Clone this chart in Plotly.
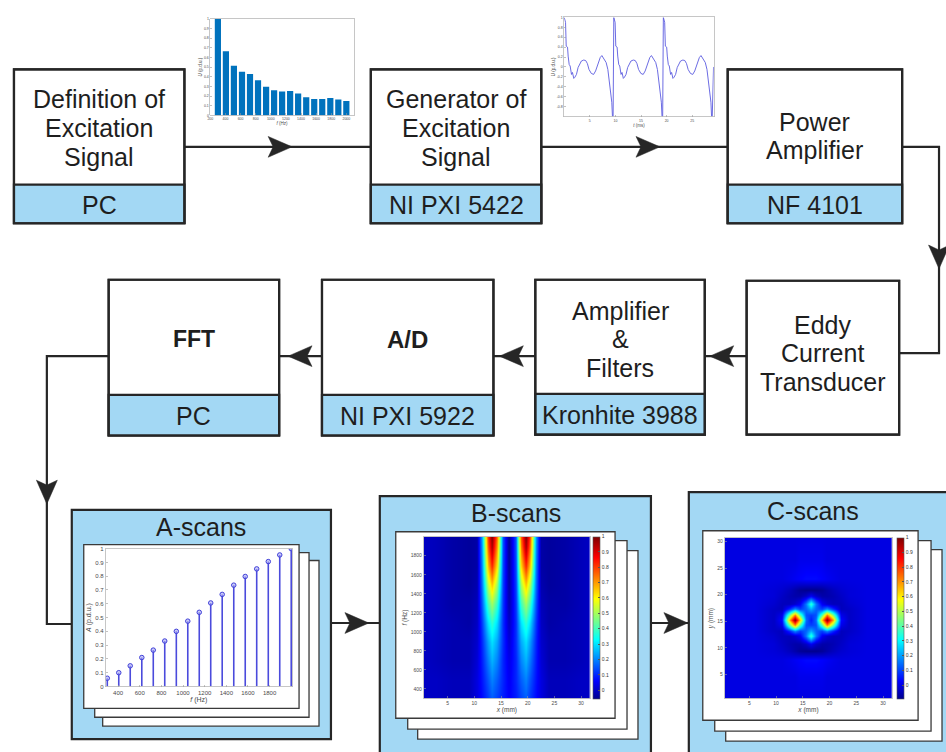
import plotly.graph_objects as go

W, H = 946, 752
FONT = "Liberation Sans, Arial, sans-serif"

# ---------------- data ----------------
# excitation frequencies (Hz) shared by the spectrum and the A-scan
freq_hz = [300, 406, 512, 619, 725, 831, 938, 1044, 1150, 1256,
           1362, 1469, 1575, 1681, 1788, 1894, 2000]
# designed amplitude spectrum of the multi-tone excitation (p.d.u.)
excitation_spectrum = [1.0, 0.664, 0.514, 0.452, 0.428, 0.363, 0.298, 0.26, 0.247,
                       0.253, 0.226, 0.188, 0.171, 0.171, 0.18, 0.164, 0.15]
# measured A-scan amplitude per frequency (p.d.u.)
ascan_amplitude = [0.06, 0.10, 0.15, 0.21, 0.264, 0.33, 0.40, 0.474, 0.538,
                   0.606, 0.668, 0.735, 0.798, 0.853, 0.906, 0.954, 1.0]

# one period of the generated waveform
period_ms = 9.68
wave_t_ms = [0.0, 0.26, 0.39, 0.65, 0.77, 0.97, 1.16, 1.42, 1.61, 1.87, 2.06, 2.39,
             2.71, 3.03, 3.35, 3.81, 4.19, 4.52, 4.84, 5.29, 5.74, 6.13, 6.58, 7.03,
             7.35, 7.61, 7.87, 8.19, 8.52, 8.84, 9.03, 9.29, 9.42, 9.55]
wave_u = [1.0, 0.9, 0.42, 0.4, 0.22, 0.05, 0.02, -0.15, -0.11, -0.23, -0.21, -0.15,
          -0.01, 0.05, 0.12, 0.14, 0.13, 0.07, -0.05, -0.13, -0.15, -0.08, 0.05, 0.19,
          0.23, 0.19, 0.15, 0.09, -0.05, -0.38, -0.45, -0.71, -1.0, -1.0]
n_periods = 3
tail_t_ms = [29.16]
tail_u = [0.0]

# B-scan: amplitude over scan position x (mm) and frequency f (Hz)
bscan_x_mm = [0.45, 2.95, 5.95, 8.95, 10.45, 11.45, 12.45, 13.3, 14.25, 15.25, 16.45,
              17.65, 18.65, 19.6, 20.45, 21.45, 22.45, 23.95, 26.95, 29.95, 31.75]
bscan_f_hz = [300, 500, 700, 900, 1100, 1300, 1500, 1700, 1900, 2000]
bscan_amp = [
    [0, 0, -0.01, -0.01, 0.03, 0.07, 0.12, 0.16, 0.13, 0.09, 0.06, 0.09, 0.13, 0.16, 0.12, 0.07, 0.03, -0.01, -0.01, 0, 0],
    [0, 0, -0.01, -0.01, 0.03, 0.08, 0.15, 0.20, 0.16, 0.10, 0.05, 0.10, 0.16, 0.20, 0.15, 0.08, 0.03, -0.01, -0.01, 0, 0],
    [0, -0.01, -0.02, -0.02, 0.02, 0.09, 0.19, 0.25, 0.20, 0.10, 0.04, 0.10, 0.20, 0.25, 0.19, 0.09, 0.02, -0.02, -0.02, -0.01, 0],
    [0, -0.01, -0.02, -0.02, 0.01, 0.10, 0.23, 0.30, 0.24, 0.11, 0.02, 0.11, 0.24, 0.30, 0.23, 0.10, 0.01, -0.02, -0.02, -0.01, 0],
    [0, -0.01, -0.02, -0.03, 0.0, 0.12, 0.30, 0.38, 0.30, 0.11, 0.0, 0.11, 0.30, 0.38, 0.30, 0.12, 0.0, -0.03, -0.02, -0.01, 0],
    [0, -0.01, -0.03, -0.03, -0.01, 0.15, 0.40, 0.50, 0.39, 0.12, -0.02, 0.12, 0.39, 0.50, 0.40, 0.15, -0.01, -0.03, -0.03, -0.01, 0],
    [0, -0.01, -0.03, -0.04, -0.02, 0.18, 0.52, 0.66, 0.50, 0.13, -0.03, 0.13, 0.50, 0.66, 0.52, 0.18, -0.02, -0.04, -0.03, -0.01, 0],
    [0, -0.01, -0.03, -0.04, -0.03, 0.20, 0.66, 0.83, 0.63, 0.14, -0.04, 0.14, 0.63, 0.83, 0.66, 0.20, -0.03, -0.04, -0.03, -0.01, 0],
    [0, -0.01, -0.03, -0.04, -0.03, 0.22, 0.76, 0.96, 0.72, 0.15, -0.05, 0.15, 0.72, 0.96, 0.76, 0.22, -0.03, -0.04, -0.03, -0.01, 0],
    [0, -0.01, -0.03, -0.04, -0.03, 0.23, 0.80, 1.00, 0.76, 0.15, -0.05, 0.15, 0.76, 1.00, 0.80, 0.23, -0.03, -0.04, -0.03, -0.01, 0],
]

# C-scan: amplitude over the scanned surface (x, y in mm)
cscan_x_mm = [0.5, 6, 9.5, 11, 12.5, 13.5, 14.5, 15.5, 16.5, 17.5, 18.5, 19.5, 20.5, 22, 23.5, 27, 32.5]
cscan_y_mm = [0.5, 4.5, 7.7, 9.5, 10.8, 12.3, 13.3, 14.3, 15.3, 16.3, 17.3, 18.3, 19.8, 21.0, 23.0, 26.5, 30.8]
cscan_amp = [
    [0, 0, 0, 0, 0, 0, 0, 0, 0, 0, 0, 0, 0, 0, 0, 0, 0],
    [0, 0, 0, 0, 0, 0, 0.01, 0.01, 0.01, 0.01, 0.01, 0, 0, 0, 0, 0, 0],
    [0, 0, 0, 0, 0.01, 0.02, 0.03, 0.04, 0.04, 0.04, 0.03, 0.02, 0.01, 0, 0, 0, 0],
    [0, 0, -0.01, -0.02, -0.04, -0.06, -0.08, -0.09, -0.09, -0.09, -0.08, -0.06, -0.04, -0.02, -0.01, 0, 0],
    [0, 0, -0.01, -0.03, -0.05, -0.06, -0.06, -0.03, 0.02, -0.03, -0.06, -0.06, -0.05, -0.03, -0.01, 0, 0],
    [0, 0, -0.02, -0.04, -0.04, -0.02, 0.02, 0.16, 0.36, 0.16, 0.02, -0.02, -0.04, -0.04, -0.02, 0, 0],
    [0, 0, -0.03, -0.04, 0.08, 0.18, 0.1, 0.14, 0.22, 0.14, 0.1, 0.18, 0.08, -0.04, -0.03, 0, 0],
    [0, 0, -0.03, 0.01, 0.45, 0.72, 0.4, 0.12, 0.1, 0.12, 0.4, 0.72, 0.45, 0.01, -0.03, 0, 0],
    [0, 0, -0.03, 0.04, 0.7, 1.0, 0.65, 0.15, 0.06, 0.15, 0.65, 1.0, 0.7, 0.04, -0.03, 0, 0],
    [0, 0, -0.03, 0.01, 0.45, 0.72, 0.4, 0.12, 0.1, 0.12, 0.4, 0.72, 0.45, 0.01, -0.03, 0, 0],
    [0, 0, -0.03, -0.04, 0.08, 0.18, 0.1, 0.14, 0.22, 0.14, 0.1, 0.18, 0.08, -0.04, -0.03, 0, 0],
    [0, 0, -0.02, -0.04, -0.04, -0.02, 0.02, 0.16, 0.36, 0.16, 0.02, -0.02, -0.04, -0.04, -0.02, 0, 0],
    [0, 0, -0.01, -0.03, -0.05, -0.06, -0.06, -0.03, 0.02, -0.03, -0.06, -0.06, -0.05, -0.03, -0.01, 0, 0],
    [0, 0, -0.01, -0.02, -0.04, -0.06, -0.08, -0.09, -0.09, -0.09, -0.08, -0.06, -0.04, -0.02, -0.01, 0, 0],
    [0, 0, 0, 0, 0.01, 0.02, 0.03, 0.04, 0.04, 0.04, 0.03, 0.02, 0.01, 0, 0, 0, 0],
    [0, 0, 0, 0, 0, 0, 0.01, 0.01, 0.01, 0.01, 0.01, 0, 0, 0, 0, 0, 0],
    [0, 0, 0, 0, 0, 0, 0, 0, 0, 0, 0, 0, 0, 0, 0, 0, 0],
]

# tick labels
spectrum_xticks = [200, 400, 600, 800, 1000, 1200, 1400, 1600, 1800, 2000]
ascan_xticks = [400, 600, 800, 1000, 1200, 1400, 1600, 1800]
unit_ticks = [0, 0.1, 0.2, 0.3, 0.4, 0.5, 0.6, 0.7, 0.8, 0.9, 1]
wave_yticks = [-0.8, -0.6, -0.4, -0.2, 0, 0.2, 0.4, 0.6, 0.8, 1]
wave_xticks = [5, 10, 15, 20, 25]
mm_ticks = [5, 10, 15, 20, 25, 30]
freq_ticks = [400, 600, 800, 1000, 1200, 1400, 1600, 1800]

# MATLAB-style jet colormap
JET = [[0.0, "rgb(0,0,143)"], [0.111, "rgb(0,0,255)"], [0.365, "rgb(0,255,255)"],
       [0.619, "rgb(255,255,0)"], [0.873, "rgb(255,0,0)"], [1.0, "rgb(128,0,0)"]]

# ---------------- helpers (pixel -> paper) ----------------
def px(x):
    return x / W


def py(y):
    return 1 - y / H


INK = "#262626"
BLUE = "#a3d8f4"
shapes = []
annotations = []


def rect(x0, y0, x1, y1, fill, color=INK, width=2.2):
    shapes.append(dict(type="rect", xref="paper", yref="paper",
                       x0=px(x0), x1=px(x1), y0=py(y1), y1=py(y0),
                       fillcolor=fill, line=dict(color=color, width=width), layer="below"))


def polyline(pts, color=INK, width=2.2):
    path = "M " + " L ".join(f"{px(x):.5f},{py(y):.5f}" for x, y in pts)
    shapes.append(dict(type="path", path=path, xref="paper", yref="paper",
                       line=dict(color=color, width=width), layer="below"))


def arrowhead(tx, ty, d, length=24, half=10.5, notch=5):
    dx, dy = d
    pxp, pyp = -dy, dx
    pts = [(tx, ty),
           (tx - length * dx + half * pxp, ty - length * dy + half * pyp),
           (tx - (length - notch) * dx, ty - (length - notch) * dy),
           (tx - length * dx - half * pxp, ty - length * dy - half * pyp)]
    path = "M " + " L ".join(f"{px(x):.5f},{py(y):.5f}" for x, y in pts) + " Z"
    shapes.append(dict(type="path", path=path, xref="paper", yref="paper",
                       fillcolor=INK, line=dict(color=INK, width=0.5), layer="below"))


def label(x, y, text, size=25, bold=False):
    annotations.append(dict(x=px(x), y=py(y), xref="paper", yref="paper",
                            text=f"<b>{text}</b>" if bold else text, showarrow=False,
                            xanchor="center", yanchor="middle",
                            font=dict(family=FONT, size=size, color="#1e1e1e")))


def block(x0, y0, x1, y1, lines, line_ys, sub=None, sub_top=None, bold=False, size=25):
    if sub is not None:
        rect(x0, sub_top, x1, y1, BLUE)
    rect(x0, y0, x1, y1, "rgba(0,0,0,0)")
    cx = (x0 + x1) / 2
    for t, yy in zip(lines, line_ys):
        label(cx, yy, t, size=size, bold=bold)
    if sub is not None:
        label(cx, (sub_top + y1) / 2 + 1, sub)


# ---------------- connectors ----------------
polyline([(182, 145), (369, 145)])
arrowhead(290, 145, (1, 0))
polyline([(540, 145), (727, 145)])
arrowhead(659, 145, (1, 0))
polyline([(902, 145), (939, 145), (939, 353), (899, 353)])
arrowhead(939, 268, (0, 1))
polyline([(746, 356), (704, 356)])
arrowhead(709, 356, (-1, 0))
polyline([(534, 356), (492, 356)])
arrowhead(498, 356, (-1, 0))
polyline([(320, 356), (277, 356)])
arrowhead(286, 356, (-1, 0))
polyline([(106, 356), (44, 356), (44, 626), (69, 626)])
arrowhead(44, 505, (0, 1))
polyline([(329, 625), (378, 625)])
arrowhead(367, 625, (1, 0))
polyline([(650, 625), (688, 625)])
arrowhead(687, 625, (1, 0))

# ---------------- top row ----------------
rect(11, 67, 182, 222, "white")
block(11, 67, 182, 222, ["Definition of", "Excitation", "Signal"], [97, 126, 155],
      sub="PC", sub_top=183)
rect(369, 67, 540, 222, "white")
block(369, 67, 540, 222, ["Generator of", "Excitation", "Signal"], [97, 126, 155],
      sub="NI PXI 5422", sub_top=183)
rect(727, 67, 902, 222, "white")
block(727, 67, 902, 222, ["Power", "Amplifier"], [120, 148], sub="NF 4101", sub_top=183)

# ---------------- middle row ----------------
rect(106, 279, 277, 436, "white")
block(106, 279, 277, 436, ["FFT"], [339], sub="PC", sub_top=395, bold=True, size=23)
rect(320, 279, 492, 436, "white")
block(320, 279, 492, 436, ["A/D"], [339], sub="NI PXI 5922", sub_top=395, bold=True, size=24)
rect(534, 279, 704, 435, "white")
block(534, 279, 704, 435, ["Amplifier", "&", "Filters"], [310, 339, 368],
      sub="Kronhite 3988", sub_top=394)
rect(746, 280, 899, 435, "white")
block(746, 280, 899, 435, ["Eddy", "Current", "Transducer"], [325, 353, 382])

# ---------------- result panels ----------------
rect(69, 511, 329, 742, BLUE)
rect(378, 497, 650, 770, BLUE)
rect(688, 493, 960, 770, BLUE)
label(199, 528, "A-scans")
label(515, 514, "B-scans")
label(813, 512, "C-scans")

CARD = "#3a3a3a"
for box in [(100, 562, 317, 729), (92, 554, 307, 720), (81, 546, 297, 711),
            (416, 552, 637, 742), (406, 542, 626, 732), (394, 533, 614, 721),
            (725, 551, 942, 744), (714, 542, 931, 734), (702, 532, 918, 723)]:
    rect(*box, "white", color=CARD, width=1.3)


# ---------------- axes ----------------
def fmt(v):
    return f"{v:g}"


def mat_axis(domain, rng, anchor, tickvals, tsize, title, title_size, standoff):
    return dict(domain=domain, range=rng, anchor=anchor, tickmode="array",
                tickvals=tickvals, ticktext=[fmt(v) for v in tickvals],
                tickfont=dict(family=FONT, size=tsize, color="#4a4a4a"),
                ticks="inside", ticklen=2, tickwidth=0.6, tickcolor="#9a9a9a",
                showline=True, mirror=True, linecolor="#b8b8b8", linewidth=0.8,
                showgrid=False, zeroline=False, fixedrange=True,
                title=dict(text=title, font=dict(family=FONT, size=title_size, color="#4a4a4a"),
                           standoff=standoff))


fig = go.Figure()

# designed excitation spectrum
fig.add_trace(go.Bar(x=freq_hz, y=excitation_spectrum, width=82, marker_color="#0072BD",
                     marker_line_width=0, xaxis="x", yaxis="y"))

# generated time waveform
t_all, u_all = [], []
for k in range(n_periods):
    t_all += [t + k * period_ms for t in wave_t_ms]
    u_all += wave_u
t_all += tail_t_ms
u_all += tail_u
fig.add_trace(go.Scatter(x=t_all, y=u_all, mode="lines",
                         line=dict(color="#5b5be0", width=0.9), xaxis="x2", yaxis="y2"))

# A-scan stems
stem_x, stem_y = [], []
for f, a in zip(freq_hz, ascan_amplitude):
    stem_x += [f, f, None]
    stem_y += [0, a, None]
fig.add_trace(go.Scatter(x=stem_x, y=stem_y, mode="lines",
                         line=dict(color="#4b4bdc", width=1.6), xaxis="x3", yaxis="y3"))
fig.add_trace(go.Scatter(x=freq_hz, y=ascan_amplitude, mode="markers",
                         marker=dict(symbol="circle", size=4.5, color="rgba(170,170,245,0.6)",
                                     line=dict(color="#4040d8", width=1)),
                         xaxis="x3", yaxis="y3"))


def cbar(left, top, bottom):
    return dict(x=px(left), xanchor="left", xpad=0, y=py((top + bottom) / 2), yanchor="middle",
                len=(bottom - top) / H, lenmode="fraction", ypad=0, thickness=7,
                thicknessmode="pixels", outlinewidth=0.6, outlinecolor="#555",
                tickmode="array", tickvals=unit_ticks, ticktext=[fmt(v) for v in unit_ticks],
                ticks="inside", ticklen=2, tickcolor="#555",
                tickfont=dict(family=FONT, size=5, color="#333"))


fig.add_trace(go.Heatmap(x=bscan_x_mm, y=bscan_f_hz, z=bscan_amp, colorscale=JET,
                         zmin=-0.055, zmax=1.0, zsmooth="best", xaxis="x4", yaxis="y4",
                         colorbar=cbar(592, 538, 701)))
fig.add_trace(go.Heatmap(x=cscan_x_mm, y=cscan_y_mm, z=cscan_amp, colorscale=JET,
                         zmin=-0.09, zmax=1.0, zsmooth="best", xaxis="x5", yaxis="y5",
                         colorbar=cbar(897, 539, 701)))

fig.update_layout(
    width=W, height=H, margin=dict(l=0, r=0, t=0, b=0),
    paper_bgcolor="white", plot_bgcolor="white", showlegend=False,
    shapes=shapes, annotations=annotations,
    xaxis=mat_axis([px(208), px(352)], [200, 2100], "y", spectrum_xticks, 3.5, "<i>f</i> (Hz)", 4.5, 1),
    yaxis=mat_axis([py(113.3), py(16)], [0, 1], "x", unit_ticks, 3.5, "<i>U</i> (p.d.u.)", 4.5, 1),
    xaxis2=mat_axis([px(563), px(713)], [0, 29.2], "y2", wave_xticks, 3.5, "<i>t</i> (ms)", 4.5, 1),
    yaxis2=mat_axis([py(114.5), py(14.5)], [-1, 1], "x2", wave_yticks, 3.5, "<i>U</i> (p.d.u.)", 4.5, 1),
    xaxis3=mat_axis([px(103), px(290)], [285, 2008], "y3", ascan_xticks, 6, "<i>f</i> (Hz)", 7, 1),
    yaxis3=mat_axis([py(689), py(550)], [0, 1], "x3", unit_ticks, 6, "<i>A</i> (p.d.u.)", 7, 2),
    xaxis4=mat_axis([px(422), px(589)], [0.5, 31.7], "y4", mm_ticks, 5, "<i>x</i> (mm)", 6.5, 1),
    yaxis4=mat_axis([py(701), py(538)], [300, 2000], "x4", freq_ticks, 5, "<i>f</i> (Hz)", 6.5, 2),
    xaxis5=mat_axis([px(724), px(892)], [0.4, 31.7], "y5", mm_ticks, 5, "<i>x</i> (mm)", 6.5, 1),
    yaxis5=mat_axis([py(701), py(539)], [0.5, 30.7], "x5", mm_ticks, 5, "<i>y</i> (mm)", 6.5, 2),
)

fig.write_html("out.html", config={"displayModeBar": False, "staticPlot": True})
